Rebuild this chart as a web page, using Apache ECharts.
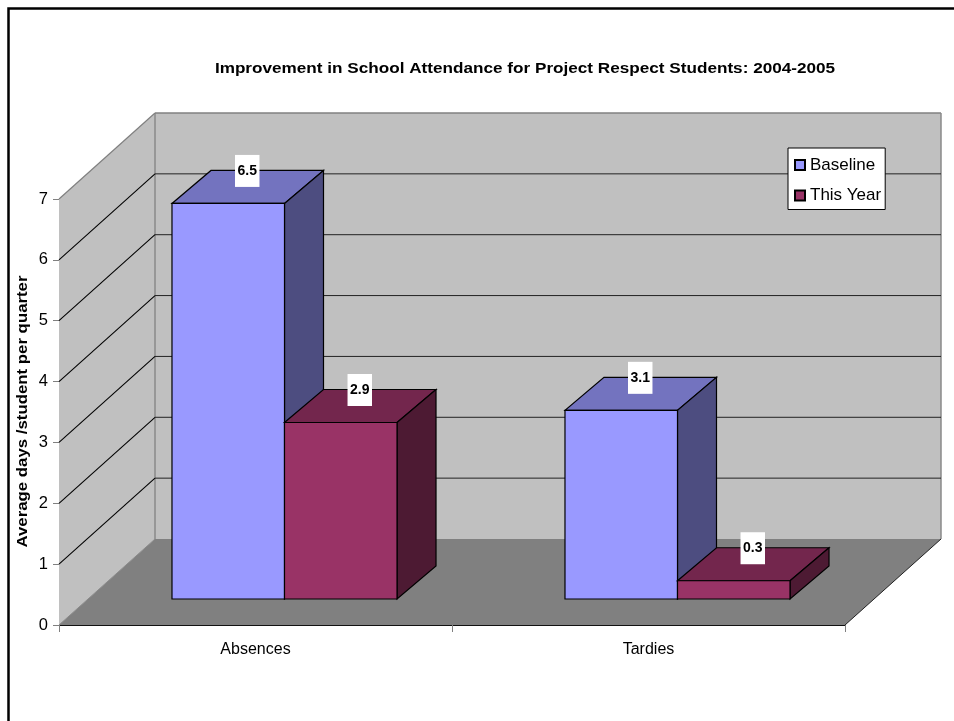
<!DOCTYPE html>
<html><head><meta charset="utf-8">
<style>html,body{margin:0;padding:0;background:#fff}#c{width:954px;height:721px}</style>
<script src="https://cdn.jsdelivr.net/npm/echarts@6/dist/echarts.min.js"></script>
</head><body><div id="c"></div>
<script>
const categories = ['Absences', 'Tardies'];
const baseline = [6.5, 3.1];
const thisYear = [2.9, 0.3];
const valueTicks = [0, 1, 2, 3, 4, 5, 6, 7];
const titleText = 'Improvement in School Attendance for Project Respect Students: 2004-2005';
const yAxisTitle = 'Average days /student per quarter';

const FONT = '"Liberation Sans", Arial, sans-serif';
const WALL = [96, -86];        // projection of the chart depth
const PLANE = [29, -26];       // where the bars' front plane sits
const DEPTH = [39, -33];       // depth of one bar
const BAR_FRAC = 0.2863, GAP_FRAC = 0.2137;

const chart = echarts.init(document.getElementById('c'), null, {renderer: 'canvas'});
const poly = (points, fill, stroke, lw) => ({type: 'polygon', silent: true,
  shape: {points}, style: {fill: fill, stroke: stroke || 'none', lineWidth: lw || 1}});
const line = (a, b, stroke, lw) => ({type: 'line', silent: true,
  shape: {x1: a[0], y1: a[1], x2: b[0], y2: b[1]}, style: {stroke, lineWidth: lw || 1}});
const add = (p, d) => [p[0] + d[0], p[1] + d[1]];

function renderWalls(params, api) {
  const tick = api.value(1);
  const p0 = api.coord([0, 0]);
  const band = api.size([1, 0])[0];
  const fl = [p0[0] - band / 2, p0[1]];
  const fr = [fl[0] + band * categories.length, p0[1]];
  const y = api.coord([0, tick])[1];
  const top = api.coord([0, valueTicks[valueTicks.length - 1]])[1];
  const children = [];
  if (tick === 0) {
    const ft = [fl[0], top];
    children.push(
      poly([fl, add(fl, WALL), add(ft, WALL), ft], '#c0c0c0'),
      poly([add(fl, WALL), add(fr, WALL), [add(fr, WALL)[0], add(ft, WALL)[1]], add(ft, WALL)], '#c0c0c0'),
      poly([fl, fr, add(fr, WALL), add(fl, WALL)], '#808080'),
      line(add(fl, WALL), add(ft, WALL), '#8a8a8a', 1.5),
      line(add(ft, WALL), ft, '#808080', 1.2),
      line(add(ft, WALL), [add(fr, WALL)[0], add(ft, WALL)[1]], '#808080', 1.5),
      line([add(fr, WALL)[0], add(ft, WALL)[1]], add(fr, WALL), '#8a8a8a', 1.5),
      line(fl, add(fl, WALL), '#8a8a8a', 1),
      line(fr, add(fr, WALL), '#222222', 1)
    );
  } else if (tick !== valueTicks[valueTicks.length - 1]) {
    const a = [fl[0], y], b = add(a, WALL), c = [add(fr, WALL)[0], b[1]];
    children.push(line(a, b, '#000000', 1.1), line(b, c, '#222222', 1));
  }
  return {type: 'group', children};
}

function makeBars(index, front, topFace, side) {
  return function (params, api) {
    const cat = api.value(0), val = api.value(1);
    const band = api.size([1, 0])[0];
    const base = api.coord([cat, 0]);
    const topY = api.coord([cat, val])[1];
    const x0 = base[0] - band / 2 + band * (GAP_FRAC + BAR_FRAC * index) + PLANE[0];
    const x1 = x0 + band * BAR_FRAC;
    const yb = base[1] + PLANE[1], yt = topY + PLANE[1];
    const fl = [x0, yt], fr = [x1, yt], bl = [x0, yb], br = [x1, yb];
    const black = '#000000';
    return {type: 'group', children: [
      poly([fl, fr, add(fr, DEPTH), add(fl, DEPTH)], topFace, black, 1.2),
      poly([fr, br, add(br, DEPTH), add(fr, DEPTH)], side, black, 1.2),
      poly([fl, fr, br, bl], front, black, 1.2),
      {type: 'text', silent: true, z2: 100,
        style: {x: (x0 + x1 + DEPTH[0]) / 2 - 0.5, y: yt + DEPTH[1] + 0.5, text: val.toFixed(1),
          align: 'center', verticalAlign: 'middle',
          font: 'bold 14px ' + FONT, fill: '#000',
          backgroundColor: '#fff', padding: [8, 2.5], lineHeight: 16}}
    ]};
  };
}

const toData = arr => arr.map((v, i) => [i, v]);

chart.setOption({
  animation: false,
  backgroundColor: '#fff',
  textStyle: {fontFamily: FONT},
  tooltip: {show: false},
  legend: {left: 788, top: 148, orient: 'vertical', data: ['Baseline', 'This Year'],
    icon: 'rect', itemWidth: 10, itemHeight: 10, itemGap: 13.5, padding: [8.5, 4, 5.5, 6],
    backgroundColor: '#fff', borderColor: '#000', borderWidth: 1,
    selectedMode: false,
    textStyle: {fontFamily: FONT, fontSize: 17, color: '#000', padding: [0, 0, 0, 0]}},
  grid: {left: 59, right: 109, top: 199, bottom: 96},
  xAxis: {type: 'category', data: categories, boundaryGap: true,
    axisLine: {lineStyle: {color: '#111', width: 1}},
    axisTick: {show: true, length: 7, lineStyle: {color: '#808080', width: 1}},
    axisLabel: {fontFamily: FONT, fontSize: 16, color: '#000', margin: 17},
    splitLine: {show: false}},
  yAxis: {type: 'value', min: 0, max: 7, interval: 1,
    axisLine: {show: true, lineStyle: {color: '#808080', width: 1}},
    axisTick: {show: true, length: 6, lineStyle: {color: '#808080', width: 1}},
    axisLabel: {fontFamily: FONT, fontSize: 16.5, color: '#000', margin: 11},
    splitLine: {show: false}},
  graphic: [
    {type: 'rect', silent: true, z: -1,
      shape: {x: 8.5, y: 8.5, width: 1200, height: 1200},
      style: {fill: 'none', stroke: '#000', lineWidth: 2.5}},
    {type: 'text', silent: true, z: 10, x: 525, y: 68.5, scaleX: 1.143,
      style: {text: titleText, align: 'center', verticalAlign: 'middle',
        font: 'bold 15px ' + FONT, fill: '#000'}},
    {type: 'text', silent: true, z: 10, x: 23, y: 411.5, rotation: Math.PI / 2, scaleX: 1.2,
      style: {text: yAxisTitle, align: 'center', verticalAlign: 'middle',
        font: 'bold 14px ' + FONT, fill: '#000'}}
  ],
  series: [
    {type: 'custom', name: 'walls', z: 1, silent: true, renderItem: renderWalls,
      data: valueTicks.map(t => [0, t]), encode: {x: 0, y: 1}},
    {type: 'custom', name: 'Baseline', z: 2, silent: true,
      renderItem: makeBars(0, '#9999ff', '#7373bf', '#4d4d80'),
      itemStyle: {color: '#9999ff', borderColor: '#000', borderWidth: 1},
      data: toData(baseline), encode: {x: 0, y: 1}},
    {type: 'custom', name: 'This Year', z: 3, silent: true,
      renderItem: makeBars(1, '#993366', '#73264d', '#4d1a33'),
      itemStyle: {color: '#993366', borderColor: '#000', borderWidth: 1},
      data: toData(thisYear), encode: {x: 0, y: 1}}
  ]
});
</script></body></html>
